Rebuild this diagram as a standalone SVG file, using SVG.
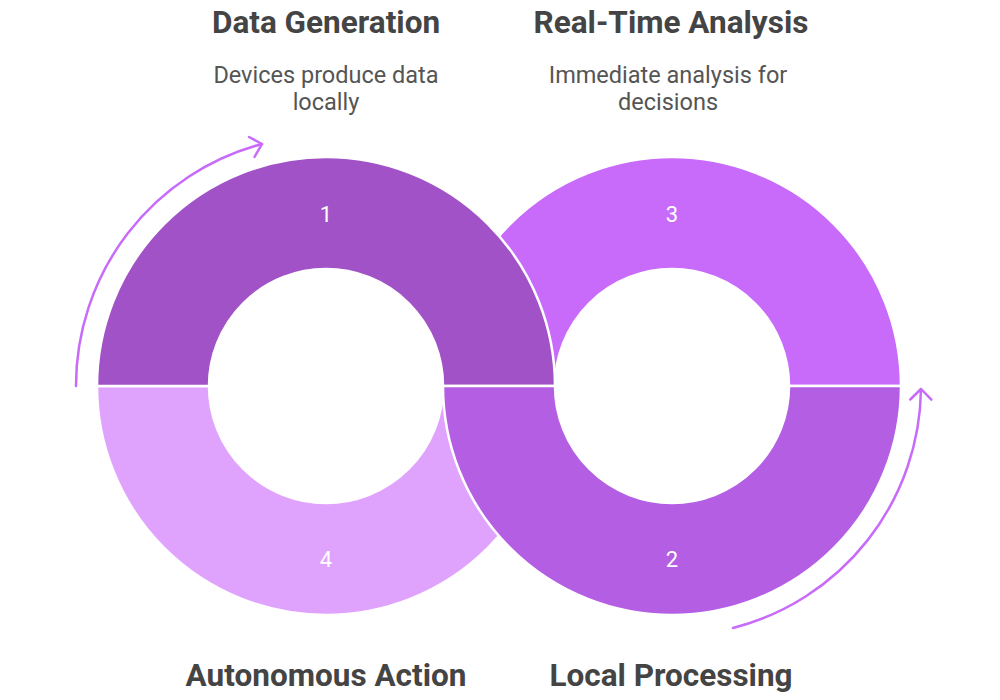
<svg xmlns="http://www.w3.org/2000/svg" width="1000" height="700" viewBox="0 0 1000 700">
<style>
.seg{stroke:#ffffff;stroke-width:2.5;stroke-linejoin:miter}
.title{font-family:Roboto,"Liberation Sans",sans-serif;font-weight:bold;font-size:31.5px;fill:#444444;text-anchor:middle}
.desc{font-family:Roboto,"Liberation Sans",sans-serif;font-size:23.5px;fill:#555555;text-anchor:middle}
.num{font-family:Roboto,"Liberation Sans",sans-serif;font-size:22px;fill:#ffffff;text-anchor:middle}
.arrow{fill:none;stroke:#C86BFA;stroke-width:2.5;stroke-linecap:round;stroke-linejoin:round}
</style>
<rect width="1000" height="700" fill="#ffffff"/>
<g id="node-3">
<path class="seg" fill="#C86BFA" d="M 443 386 A 229 229 0 0 1 901 386 L 789 386 A 117 117 0 0 0 555 386 Z"/>
<text class="num" x="672" y="222">3</text>
</g>
<g id="node-4">
<path class="seg" fill="#E0A3FD" d="M 97 386 A 229 229 0 0 0 555 386 L 443 386 A 117 117 0 0 1 209 386 Z"/>
<text class="num" x="326" y="567">4</text>
</g>
<g id="node-1">
<path class="seg" fill="#A052C6" d="M 97 386 A 229 229 0 0 1 555 386 L 443 386 A 117 117 0 0 0 209 386 Z"/>
<text class="num" x="326" y="222">1</text>
</g>
<g id="node-2">
<path class="seg" fill="#B45EE3" d="M 443 386 A 229 229 0 0 0 901 386 L 789 386 A 117 117 0 0 1 555 386 Z"/>
<text class="num" x="672" y="567">2</text>
</g>
<g id="connectors">
<path class="arrow" d="M 76 386 A 250 250 0 0 1 262 144"/>
<polyline class="arrow" points="249,137 262,144 254.5,157"/>
<path class="arrow" d="M 733 628 A 250 250 0 0 0 921 389"/>
<polyline class="arrow" points="910.3,399.5 921,389 931.4,399.7"/>
</g>
<g id="label-1">
<text class="title" x="326" y="33">Data Generation</text>
<text class="desc" x="326" y="83">Devices produce data</text>
<text class="desc" x="326" y="110">locally</text>
</g>
<g id="label-3">
<text class="title" x="671" y="33">Real-Time Analysis</text>
<text class="desc" x="668" y="83">Immediate analysis for</text>
<text class="desc" x="668" y="110">decisions</text>
</g>
<g id="label-4">
<text class="title" x="326" y="686">Autonomous Action</text>
</g>
<g id="label-2">
<text class="title" x="671" y="686">Local Processing</text>
</g>
</svg>
